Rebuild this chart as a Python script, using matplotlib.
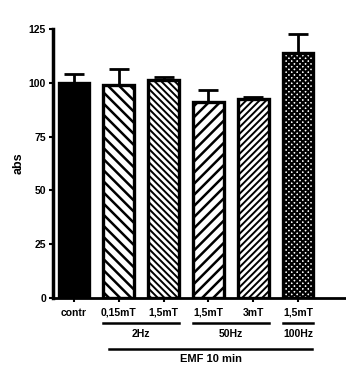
import matplotlib
matplotlib.use("Agg")
import matplotlib.pyplot as plt
import matplotlib.transforms as mtransforms

categories = ["contr", "0,15mT", "1,5mT", "1,5mT", "3mT", "1,5mT"]
means = [100.0, 99.2, 101.2, 91.2, 92.6, 113.7]
errs = [4.0, 7.0, 1.4, 5.4, 0.8, 9.1]
hatches = [None, "\\\\\\", "\\\\\\\\\\", "///", "/////", "xxxxxx"]
hatch_lw = [1.6, 1.8, 1.4, 1.8, 1.4, 1.6]
groups = [("2Hz", 1, 2), ("50Hz", 3, 4), ("100Hz", 5, 5)]
supergroup = "EMF 10 min"
yticks = [0, 25, 50, 75, 100, 125]

plt.rcParams['font.family'] = ['Liberation Sans', 'DejaVu Sans']

fig = plt.figure(figsize=(3.46, 3.73), dpi=100)
ax = fig.add_axes([53/346, 1-298/373, (345-53)/346, (298-29)/373])

x = list(range(len(categories)))
w = 0.69
for i in x:
    fc = 'black' if hatches[i] is None else 'white'
    with plt.rc_context({'hatch.linewidth': hatch_lw[i]}):
        b = ax.bar(i, means[i], width=w, color=fc, edgecolor='black',
                   linewidth=2.4, hatch=hatches[i], zorder=2)
    for p in b:
        try:
            p.set_hatch_linewidth(hatch_lw[i])
        except AttributeError:
            pass
ax.errorbar(x, means, yerr=[[0]*len(errs), errs], fmt='none', ecolor='black',
            elinewidth=2, capsize=7, capthick=2, zorder=1)

ax.set_xlim(-0.469, 6.05)
ax.set_ylim(0, 125)
ax.set_yticks(yticks)
ax.set_yticklabels([str(t) for t in yticks], fontsize=7.5, fontweight='bold')
ax.set_xticks(x)
ax.set_xticklabels(categories, fontsize=7.5, fontweight='bold')
ax.tick_params(axis='both', length=3, width=1.5, pad=2)
ax.tick_params(axis='x', pad=4)
for s in ['top', 'right']:
    ax.spines[s].set_visible(False)
ax.spines['left'].set_linewidth(2.5)
ax.spines['bottom'].set_linewidth(2)
ax.set_ylabel("abs", fontsize=9, fontweight='bold', labelpad=3)

trans = mtransforms.blended_transform_factory(ax.transData, ax.transAxes)
for name, a, b in groups:
    x0 = a - w/2
    x1 = b + w/2
    ax.plot([x0, x1], [-0.093, -0.093], color='black', lw=1.8, transform=trans, clip_on=False)
    ax.text((x0+x1)/2, -0.133, name, ha='center', va='center', fontsize=7.5,
            fontweight='bold', transform=trans)
ax.plot([1 - w/2 + 0.12, 5 + w/2 - 0.03], [-0.19, -0.19], color='black', lw=1.8,
        transform=trans, clip_on=False)
ax.text(3.05, -0.225, supergroup, ha='center', va='center', fontsize=8,
        fontweight='bold', transform=trans)

fig.savefig("out.png", dpi=100)
